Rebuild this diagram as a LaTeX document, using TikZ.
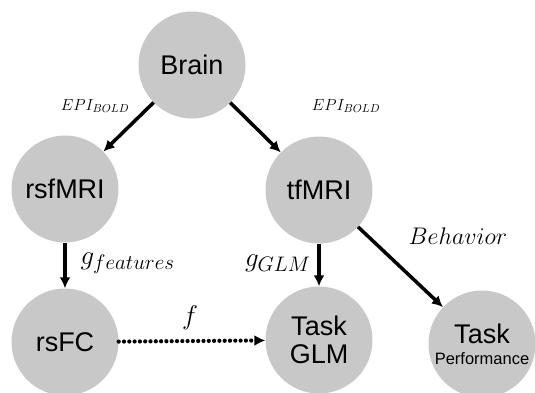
\RequirePackage{fix-cm}
\documentclass[tikz,border=0pt]{standalone}
\usepackage{fontspec}
\newfontfamily\arial{Liberation Sans}
\usetikzlibrary{arrows.meta}
\DeclareMathSizes{16}{16}{11.5}{9}
\DeclareMathSizes{27}{27}{21}{16}
\DeclareMathSizes{24}{24}{17}{12}
\definecolor{circgray}{RGB}{200,200,200}
\tikzset{
  bub/.style={circle, fill=circgray, minimum size=107pt, inner sep=0pt,
    font=\arial\fontsize{27}{28}\selectfont, align=center},
  arr/.style={line width=3.5pt, -{Latex[length=11pt,width=11pt]}},
  dotarr/.style={line width=4.2pt, line cap=round, dash pattern=on 0pt off 5.3pt,
    -{Latex[length=11pt,width=11pt]}},
  lblsmall/.style={font=\fontsize{16}{16}\selectfont},
  lblbig/.style={font=\fontsize{27}{27}\selectfont},
  lblmid/.style={font=\fontsize{24}{24}\selectfont},
}
\begin{document}
\begin{tikzpicture}[x=1pt,y=-1pt]
\useasboundingbox (0,0) rectangle (535,392);
\node[bub] (brain) at (192,65) {Brain};
\node[bub] (rsfmri) at (65,189) {rsfMRI};
\node[bub] (tfmri) at (319,190) {tfMRI};
\node[bub] (rsfc) at (65,342) {rsFC};
\node[bub] (glm) at (319,340) {Task\\GLM};
\node[bub] (perf) at (482,344) {Task\\[-7pt]{\fontsize{16.5}{18}\selectfont Performance}};
\draw[arr] (brain) -- (rsfmri);
\draw[arr] (brain) -- (tfmri);
\draw[arr] (rsfmri) -- (rsfc);
\draw[arr] (tfmri) -- (glm);
\draw[arr] (tfmri) -- (perf);
\draw[dotarr] (rsfc) -- (glm);
\node[lblsmall] (l1) at (95,106) {$EPI_{BOLD}$};
\node[lblsmall] (l2) at (346,106) {$EPI_{BOLD}$};
\node[lblbig, anchor=west] (l3) at (77,263) {$g_{features}$};
\node[lblbig, anchor=east] (l4) at (314,263) {$g_{GLM}$};
\node[lblmid] (l5) at (458,236) {$Behavior$};
\node[lblbig] (l6) at (190,318) {$f$};
\end{tikzpicture}
\end{document}
